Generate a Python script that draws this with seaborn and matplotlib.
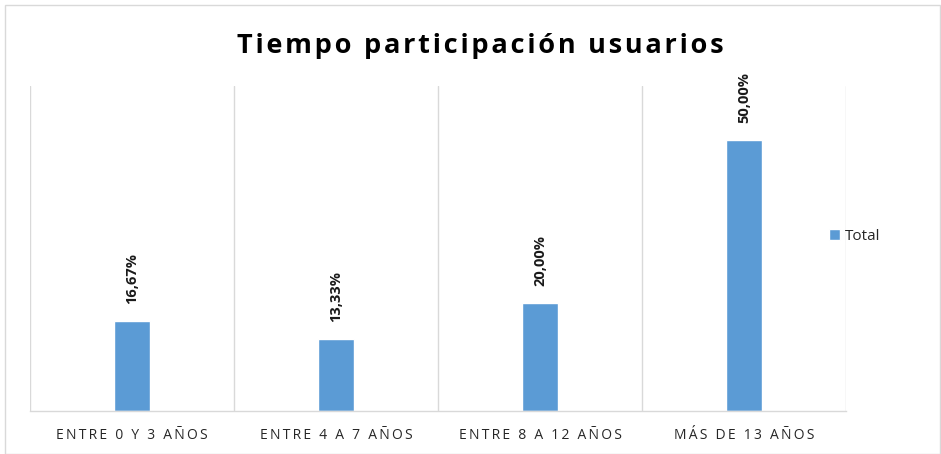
import matplotlib.pyplot as plt
import matplotlib.patches as mpatches
import seaborn as sns
import pandas as pd

# data
categorias = ["ENTRE 0 Y 3 AÑOS", "ENTRE 4 A 7 AÑOS", "ENTRE 8 A 12 AÑOS", "MÁS DE 13 AÑOS"]
valores = [0.1667, 0.1333, 0.20, 0.50]
serie = ["Total"] * len(categorias)
etiquetas = ["16,67%", "13,33%", "20,00%", "50,00%"]
titulo = "Tiempo participación usuarios"

df = pd.DataFrame({"cat": categorias, "val": valores, "serie": serie})

sns.set_style("white")
plt.rcParams["font.family"] = ["Open Sans", "DejaVu Sans"]


def espaciar(texto, sep="\u2009"):
    # fake letter spacing like the Excel chart
    return sep.join(texto)


fig = plt.figure(figsize=(9.41, 4.54), dpi=100)
ax = fig.add_axes([30 / 941, 1 - 411 / 454, 816 / 941, 325 / 454])

sns.barplot(data=df, x="cat", y="val", hue="serie", palette=["#5B9BD5"],
            width=0.18, ax=ax, saturation=1)

ax.set_ylim(0, 0.6)
ax.set_xlim(-0.5, len(categorias) - 0.5)
ax.set_yticks([])
ax.set_xlabel("")
ax.set_ylabel("")

# vertical separators between categories
ax.set_xticks([i - 0.5 for i in range(len(categorias) + 1)], minor=True)
ax.grid(which="minor", axis="x", color="#D9D9D9", linewidth=1)
ax.tick_params(axis="x", which="both", length=0)
for s in ["top", "right", "left"]:
    ax.spines[s].set_visible(False)
ax.spines["bottom"].set_color("#D9D9D9")
ax.spines["bottom"].set_linewidth(1)

ax.set_xticks(range(len(categorias)))
ax.set_xticklabels([espaciar(c) for c in categorias], fontsize=10, color="#262626")
ax.tick_params(axis="x", pad=12)

ax.bar_label(ax.containers[0], labels=etiquetas, rotation=90, padding=12,
             fontsize=10.5, fontweight="bold", color="#1a1a1a")

fig.suptitle(espaciar(titulo, "\u200a"), x=480 / 941, y=1 - 33 / 454, fontsize=19.5,
             fontweight="bold", color="black")

leg = ax.legend(loc="center left", bbox_to_anchor=(815 / 941, 1 - 236 / 454),
                bbox_transform=fig.transFigure, frameon=False,
                handlelength=0.75, handleheight=0.75, handletextpad=0.3,
                fontsize=11)

# outer chart border
fig.patches.append(mpatches.Rectangle((5 / 941, 0), 935 / 941, 449 / 454,
                                      transform=fig.transFigure, fill=False,
                                      edgecolor="#D9D9D9", linewidth=1))

fig.savefig("out.png", dpi=100)
